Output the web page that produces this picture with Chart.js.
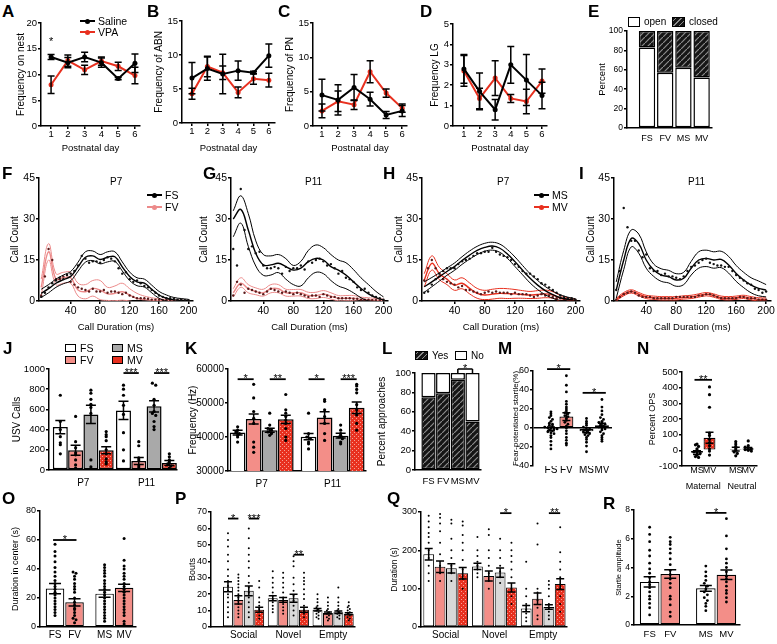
<!DOCTYPE html>
<html>
<head>
<meta charset="utf-8">
<script src="https://cdn.jsdelivr.net/npm/chart.js@4.4.1/dist/chart.umd.min.js"></script>
<style>
  html, body { margin: 0; padding: 0; background: #fff; }
  body { position: relative; width: 777px; height: 644px; overflow: hidden; font-family: "Liberation Sans", Arial, sans-serif; color: #000; }
  canvas { position: absolute; }
  .t { position: absolute; white-space: nowrap; line-height: 12px; font-size: 10px; }
  .pl { position: absolute; font-weight: bold; font-size: 17px; line-height: 17px; }
  .key { position: absolute; }
</style>
</head>
<body>
<script>
// ---------- A-D: maternal behaviour per postnatal day ----------
const days = [1, 2, 3, 4, 5, 6];
const nestSaline = [13.4, 12.3, 13.4, 12.3, 9.2, 12.2];
const nestSalineErr = [0.5, 1.0, 0.9, 0.9, 0.2, 1.8];
const nestVpa = [8.0, 12.7, 10.9, 12.6, 11.6, 9.8];
const nestVpaErr = [1.7, 1.1, 0.9, 0.8, 0.8, 1.6];
const abnSaline = [6.6, 8.0, 7.2, 7.7, 7.4, 9.9];
const abnSalineErr = [2.3, 1.7, 2.9, 1.4, 0.2, 1.7];
const abnVpa = [4.3, 8.3, 7.4, 4.5, 6.5, 6.3];
const abnVpaErr = [0.8, 1.5, 1.0, 0.8, 0.8, 1.0];
const pnSaline = [4.5, 3.8, 5.6, 3.9, 1.6, 2.2];
const pnSalineErr = [2.3, 2.2, 1.9, 1.0, 0.5, 0.8];
const pnVpa = [2.2, 3.6, 3.1, 7.9, 4.8, 2.6];
const pnVpaErr = [1.0, 1.5, 0.7, 1.6, 0.6, 0.6];
const lgSaline = [2.8, 1.7, 0.8, 3.0, 2.25, 1.5];
const lgSalineErr = [0.7, 0.9, 0.5, 0.9, 1.25, 0.65];
const lgVpa = [2.7, 1.35, 2.35, 1.35, 1.2, 2.2];
const lgVpaErr = [0.75, 0.5, 0.85, 0.2, 0.6, 0.6];
const nestSig = [{a: 1, b: 1, v: 16.3, t: '*'}];

// ---------- E ----------
const groups4 = ['FS', 'FV', 'MS', 'MV'];
const armsOpen = [83, 57, 62, 52];
const armsClosed = [17, 43, 38, 48];

// ---------- F-I: call duration histograms ----------
const durBins = [0, 5, 10, 15, 20, 25, 30, 35, 40, 45, 50, 55, 60, 65, 70, 75, 80, 85, 90, 95, 100,
  105, 110, 115, 120, 125, 130, 135, 140, 145, 150, 155, 160, 165, 170, 175, 180, 185, 190, 195, 200];
const fitBins = [0, 10, 20, 30, 40, 50, 60, 70, 80, 90, 100, 110, 120, 130, 140, 150, 160, 170, 180, 190, 200];

const fsP7Dots = [1.5, 3, 5, 6.5, 7.5, 8.5, 8, 9.5, 10, 11, 13, 16.5, 15.5, 14, 14.5, 14.5, 14, 15, 16, 15.5, 14.5,
  12, 10, 10.5, 8, 7, 7.5, 6.5, 5.5, 5, 4, 3, 2, 1.5, 1, 1, 0.8, 0.5, 0.5, 0.3, 0.3];
const fvP7Dots = [2, 9, 19, 15, 8, 8, 9, 9.5, 7, 6, 5, 4.5, 4, 3.5, 4.5, 3.5, 3.5, 4, 3, 3.5, 3.5,
  3, 2.5, 3, 2, 1.5, 1, 1, 1, 0.8, 0.5, 0.5, 0.5, 0.3, 0.3, 0.3, 0.3, 0.2, 0.2, 0.1, 0.1];
const fsP7Fit = [2.8, 4.5, 6.5, 7.8, 9, 12.5, 16, 16.5, 15.2, 16, 16.2, 12.5, 9, 7, 6.5, 4.3, 2.2, 1, 0.4, 0.2, 0.1];
const fsP7Hi = [4.3, 6, 8, 9.5, 10.8, 14.2, 18, 18.3, 17, 18, 18, 14.3, 10.6, 8.5, 8, 5.8, 3.5, 2.2, 1.3, 0.9, 0.6];
const fsP7Lo = [1.3, 3, 5, 6.3, 7.4, 10.9, 14.2, 14.8, 13.6, 14.3, 14.5, 11, 7.5, 5.6, 5.1, 3, 1, 0, -0.5, -0.5, -0.4];
const fvP7Fit = [5, 18, 8, 8.5, 8.5, 4, 3.4, 4.6, 4, 2.6, 2.8, 3.4, 2.2, 1, 0.5, 0.3, 0.2, 0.2, 0.1, 0.1, 0.1];
const fvP7Hi = [8, 21, 10, 10.5, 10.5, 6.5, 6, 7.5, 7.5, 5, 5.5, 6.5, 4.5, 2.8, 1.8, 1.2, 0.8, 0.6, 0.4, 0.3, 0.2];
const fvP7Lo = [2, 15, 6, 6.5, 6.5, 1.8, 0.8, 1.8, 0.5, 0.2, 0.1, 0.3, 0, -0.5, -0.6, -0.5, -0.4, -0.2, -0.1, 0, 0];

const fsP11Dots = [19, 13, 41, 26, 19, 20, 17.5, 18, 13, 12, 12, 12.5, 12, 10, 12.5, 11, 12, 12, 13, 11.5, 14.5,
  14, 15, 15.5, 14.5, 13, 13.5, 12, 10, 11, 8.5, 8, 7, 5, 4, 4.5, 3, 2, 1.5, 1, 0.5];
const fvP11Dots = [2, 7, 6, 3, 4.5, 4, 3.5, 3, 2.5, 3.5, 4.5, 4, 3.5, 3, 3.5, 3, 2.5, 3, 2.5, 2, 1.5,
  2, 2, 1.5, 2.5, 2, 1.5, 1.5, 1, 1, 1, 1, 0.8, 0.8, 0.5, 0.5, 0.5, 0.3, 0.3, 0.2, 0.2];
const fsP11Fit = [30, 33.5, 26, 17.4, 13.2, 13.2, 13.8, 12.6, 11.3, 12, 14.4, 15.6, 15, 12.6, 11.3, 9.5, 7, 4.6, 2.6, 1.2, 0.4];
const fsP11Hi = [33, 38.5, 32, 22, 17, 16.5, 17, 15.5, 13, 14.5, 18.5, 20.5, 19.5, 17, 15, 14, 11.5, 8.5, 6, 3.5, 1.5];
const fsP11Lo = [23.5, 28.5, 20, 12.8, 9.4, 9.5, 10.4, 8, 6, 5.5, 8.5, 10.5, 10, 7.5, 5.5, 4.5, 3, 1.2, 0, -0.5, -0.5];
const fvP11Fit = [3, 6.5, 4.5, 3.5, 3, 4.5, 4.5, 3, 3, 3, 2, 2, 2.5, 1.8, 1, 1, 1, 0.6, 0.5, 0.3, 0.2];
const fvP11Hi = [4.5, 8.5, 6, 4.8, 4.3, 6, 6, 4.3, 4.2, 4.2, 3.2, 3.2, 3.8, 3, 2, 2, 2, 1.4, 1.2, 0.9, 0.7];
const fvP11Lo = [1.5, 5, 3, 2.3, 1.8, 3, 3, 1.8, 1.8, 1.8, 0.9, 0.9, 1.3, 0.7, 0.1, 0.1, 0.1, -0.2, -0.2, -0.2, -0.2];

const msP7Dots = [3, 3.5, 6, 8, 10, 11, 12, 12, 12, 13.5, 14.5, 15, 15.5, 16.5, 17.5, 17.5, 18, 18, 19.5, 18, 17,
  16.5, 16, 15, 13.5, 12.5, 11, 10, 10, 9, 8, 6.5, 6, 5, 4, 3, 2, 1.5, 1, 1, 0.5];
const mvP7Dots = [7.5, 12, 15, 12, 9, 8, 7, 6.5, 6, 5, 5.5, 4, 4, 3.5, 3, 2.5, 3, 3.5, 3, 3.5, 3,
  3, 3, 2.5, 3, 2.5, 2.5, 2.5, 2, 1.5, 2, 2.5, 2, 2, 1.5, 1, 1, 0.8, 0.5, 0.5, 0.3];
const msP7Fit = [5.2, 7, 8.9, 10.8, 12.6, 14.8, 16.8, 18.5, 19.6, 20.1, 19.3, 17.2, 14.4, 11.3, 8.3, 5.8, 3.8, 2.3, 1.2, 0.6, 0.3];
const msP7Hi = [7, 8.6, 10.3, 12.1, 13.9, 16.2, 18.3, 20, 21.1, 21.5, 20.8, 18.8, 16.1, 13, 10, 7.5, 5.3, 3.6, 2.3, 1.4, 0.8];
const msP7Lo = [3.2, 5.2, 7.3, 9.4, 11.2, 13.4, 15.3, 17, 18.2, 18.6, 17.8, 15.6, 12.6, 9.6, 6.6, 4.2, 2.3, 1, 0.2, -0.2, -0.3];
const mvP7Fit = [7.7, 13.8, 10, 8, 5.8, 6.5, 4.6, 2.8, 2.2, 2.5, 2.8, 2.7, 2.6, 2.4, 2.2, 2.4, 2.6, 2.2, 1, 0.5, 0.2];
const mvP7Hi = [10, 16.5, 12.3, 10, 7.7, 8.5, 6.6, 4.6, 3.9, 4.3, 4.6, 4.5, 4.2, 3.8, 3.5, 3.8, 4, 3.4, 2, 1.2, 0.7];
const mvP7Lo = [5.2, 11.3, 7.8, 6, 3.9, 4.5, 2.6, 1, 0.5, 0.7, 1, 0.9, 1, 1, 0.9, 1, 1.2, 1, 0, -0.2, -0.3];

const msP11Dots = [4, 11, 34, 27, 22, 22, 18.5, 16, 17, 12, 11, 11, 9.5, 10, 9, 9, 8.5, 8, 9, 11, 12.5,
  13, 14, 15, 15.5, 14, 13.5, 13, 13, 12.5, 12.5, 11, 9.5, 8.5, 7.5, 6.5, 6, 4.5, 4, 3, 3.5];
const mvP11Dots = [0.5, 1.5, 2.5, 3, 3.5, 3, 2, 1.5, 1.5, 1.5, 1, 1, 1, 1, 1, 1, 1.5, 1.5, 1.5, 1.5, 1.5,
  1.5, 2, 2, 2.5, 2.5, 2, 1.5, 1, 1, 1, 1, 1, 1.5, 1.5, 1, 1, 1, 0.5, 0.5, 0.5];
const msP11Fit = [4, 15, 22.9, 21, 15, 11.3, 9.5, 8.9, 7.7, 8.3, 12, 15, 15.6, 15, 15.2, 13.2, 10.1, 7.7, 5.8, 4.6, 4];
const msP11Hi = [7, 18.5, 26, 24.5, 18, 13.5, 11.8, 11.2, 10, 10.5, 14.5, 18, 18.6, 18, 18.2, 16.3, 13, 10.5, 8.5, 7.3, 6];
const msP11Lo = [1, 11.5, 19.8, 17.5, 12, 9, 7.2, 6.6, 5.4, 6, 9.5, 12, 12.6, 12, 12.2, 10.2, 7.2, 4.9, 3, 1.9, 1.5];
const mvP11Fit = [0.5, 2.5, 3.5, 2.5, 1.5, 1.2, 1, 1, 1, 1.3, 1.5, 2, 2.5, 2, 1.2, 1, 1.2, 1.5, 1, 0.6, 0.5];
const mvP11Hi = [1, 3.1, 4.1, 3.1, 2.1, 1.8, 1.6, 1.6, 1.6, 1.9, 2.1, 2.6, 3.1, 2.6, 1.8, 1.6, 1.8, 2.1, 1.6, 1.2, 1.1];
const mvP11Lo = [0, 1.9, 2.9, 1.9, 0.9, 0.6, 0.4, 0.4, 0.4, 0.7, 0.9, 1.4, 1.9, 1.4, 0.6, 0.4, 0.6, 0.9, 0.4, 0, -0.1];

// ---------- J, K: USV calls and frequency ----------
const ageGroups = ['P7', 'P11'];
const usvCalls = [[425, 195, 550, 195], [590, 90, 630, 70]];
const usvCallsErr = [[65, 50, 90, 35], [90, 35, 55, 25]];
const usvCallsDots = [
  [[740, 480, 400, 330, 270, 250, 160], [530, 280, 220, 170, 150, 100, 50, 20],
   [790, 760, 700, 650, 620, 560, 100, 30], [380, 350, 330, 290, 200, 160, 110, 80, 60]],
  [[840, 800, 740, 640, 550, 370, 200, 90], [280, 240, 120, 100, 40, 20, 10],
   [860, 840, 700, 640, 580, 560, 540, 480, 430, 400], [160, 130, 100, 80, 60, 40, 20, 10]]
];
const usvCallsSig = [{g: 1, a: 0, b: 1, v: 960, t: '***'}, {g: 1, a: 2, b: 3, v: 960, t: '***'}];

const usvFreq = [[41300, 45300, 42000, 45200], [40100, 45700, 40400, 48600]];
const usvFreqErr = [[700, 1500, 600, 1200], [900, 1700, 700, 1700]];
const usvFreqDots = [
  [[43000, 42000, 41500, 41000, 40500, 40000, 38500], [55500, 51500, 47500, 45500, 44000, 38500, 37000, 35500],
   [47000, 43500, 42500, 42000, 41500, 41000, 40500], [52500, 48000, 47000, 46000, 45000, 44000, 42500, 40000, 39000]],
  [[47000, 41000, 40000, 39500, 38500, 38000, 36500], [51000, 50500, 48000, 46000, 44000, 41000, 39000],
   [43500, 42000, 41000, 40500, 40000, 39500, 38500, 38000], [55500, 55000, 54000, 53000, 49500, 48000, 46500, 44000, 42000]]
];
const usvFreqSig = [{g: 0, a: 0, b: 1, v: 57000, t: '*'}, {g: 0, a: 2, b: 3, v: 57000, t: '**'},
  {g: 1, a: 0, b: 1, v: 57000, t: '*'}, {g: 1, a: 2, b: 3, v: 57000, t: '***'}];

// ---------- L ----------
const approachYes = [75, 79, 93, 50];
const approachNo = [25, 21, 7, 50];
const approachSig = [{a: 2, b: 3, v: 104, t: '*', tick: 4}];

// ---------- M ----------
const fpsMean = [[-1, 12], [-3.5, 3]];
const fpsErr = [[2, 4], [1.5, 2]];
const fpsDots = [
  [[17, 15, 13, 11, 9, 7, 5, 4, 3, 2, 1, 0, 0, -1, -1, -2, -3, -4, -5, -6, -8, -10, -14, -18, -22],
   [55, 45, 38, 28, 25, 22, 20, 18, 16, 15, 13, 12, 10, 8, 6, 4, 2, 0, -3, -6, -10, -13, -16, -18]],
  [[10, 7, 5, 3, 1, 0, -1, -2, -3, -4, -5, -6, -7, -8, -10, -12, -15, -19, -25],
   [30, 22, 18, 14, 11, 9, 7, 6, 5, 4, 3, 2, 1, 0, -1, -2, -4, -6, -8, -10, -12, -14]]
];
const fpsSig = [{g: 0, a: 0, b: 1, v: 62, t: '*'}, {g: 1, a: 0, b: 1, v: 37, t: '*'}];

// ---------- N ----------
const opsGroups = ['Maternal', 'Neutral'];
const opsBars = ['MS', 'MV', 'MS', 'MV'];
const opsMean = [[-15, 80], [8, 12]];
const opsErr = [[12, 35], [12, 6]];
const opsDots = [
  [[40, 35, 25, 10, 0, -10, -15, -20, -30, -40, -45], [405, 355, 275, 110, 95, 70, 50, 30, 10, -5, -30]],
  [[55, 40, 25, 10, 0, -10, -20, -35], [60, 30, 20, 15, 10, 5, 0, -5]]
];
const opsSig = [{g: 0, a: 0, b: 1, v: 450, t: '**'}];

// ---------- O ----------
const centerMean = [[26.5, 17], [23, 27]];
const centerErr = [[3.5, 2.5], [2.5, 2.5]];
const centerDots = [
  [[57, 52, 49, 45, 41, 38, 35, 32, 30, 28, 26, 24, 22, 20, 18, 16, 14, 12, 10, 8],
   [38, 37, 35, 33, 30, 28, 26, 24, 20, 17, 15, 13, 12, 10, 8, 6, 5, 3]],
  [[43, 41, 39, 37, 35, 32, 30, 28, 26, 24, 22, 20, 18, 16, 14, 12, 10, 8, 6, 4],
   [61, 46, 42, 40, 37, 35, 33, 30, 28, 26, 24, 22, 20, 18, 16, 14, 12, 10, 8, 4, 2]]
];
const centerSig = [{g: 0, a: 0, b: 1, v: 60, t: '*'}];

// ---------- P, Q: three-chamber test ----------
const chambers = ['Social', 'Novel', 'Empty'];
const boutsMean = [[24.5, 16.5, 22, 10.5], [17.5, 16.5, 17.5, 10.5], [10.5, 8.5, 9, 8]];
const boutsErr = [[3, 2.5, 3, 1.5], [1.5, 1.5, 2.5, 1.5], [0.8, 0.6, 0.8, 0.6]];
const boutsDots = [
  [[57, 53, 49, 44, 40, 35, 31, 28, 25, 22, 20, 18, 15, 12, 9, 6], [32, 30, 28, 26, 24, 22, 20, 18, 16, 14, 12, 10, 8, 6],
   [60, 54, 48, 44, 40, 36, 31, 27, 24, 21, 18, 15, 12, 9, 6], [28, 24, 18, 15, 13, 11, 9, 7, 5]],
  [[34, 30, 27, 24, 21, 19, 17, 15, 13, 11, 9], [33, 30, 27, 24, 21, 18, 16, 14, 12, 10, 8],
   [43, 40, 37, 30, 26, 22, 19, 16, 13, 10, 7], [33, 30, 28, 26, 23, 20, 17, 13, 10, 8, 6]],
  [[20, 17, 15, 13, 12, 11, 10, 9, 8, 7, 6, 5], [18, 15, 13, 11, 10, 9, 8, 7, 6, 5, 4],
   [24, 18, 15, 13, 11, 10, 9, 8, 7, 6, 5], [15, 13, 12, 11, 10, 9, 8, 7, 6, 5, 4]]
];
const boutsSig = [{g: 0, a: 0, b: 1, v: 66, t: '*'}, {g: 0, a: 2, b: 3, v: 66, t: '***'}, {g: 1, a: 2, b: 3, v: 44, t: '**'}];

const durMean = [[190, 157, 153, 140], [158, 133, 142, 103], [48, 74, 52, 112]];
const durErr = [[15, 15, 12, 15], [8, 13, 12, 12], [8, 15, 6, 14]];
const durDots = [
  [[290, 275, 260, 245, 235, 220, 200, 180, 160, 140, 120], [295, 285, 270, 250, 220, 190, 160, 140, 120],
   [280, 270, 230, 200, 180, 160, 140, 120], [275, 265, 240, 220, 200, 175, 150, 125, 100]],
  [[235, 200, 185, 170, 160, 150, 140, 130], [255, 240, 200, 180, 160, 140, 120, 100],
   [230, 200, 180, 160, 145, 130, 115], [220, 200, 185, 170, 150, 130, 100, 80, 60]],
  [[170, 100, 80, 60, 45, 35, 25, 15], [270, 215, 100, 90, 70, 50, 30, 20],
   [120, 110, 100, 80, 60, 50, 40, 30, 20], [260, 195, 170, 150, 130, 110, 100, 80, 60, 40]]
];
const durSig = [{g: 1, a: 2, b: 3, v: 297, t: '*'}, {g: 2, a: 2, b: 3, v: 297, t: '**'}];

// ---------- R ----------
const startleMean = [[3.0, 3.55], [2.55, 3.5]];
const startleErr = [[0.35, 0.3], [0.2, 0.33]];
const startleDots = [
  [[6.8, 6.3, 5.8, 5.2, 4.8, 4.3, 3.9, 3.6, 3.3, 3.0, 2.8, 2.6, 2.3, 2.0, 1.8, 1.5, 1.2, 0.7],
   [6.1, 5.8, 5.6, 5.3, 5.0, 4.6, 4.2, 3.8, 3.5, 3.2, 2.9, 2.6, 2.0, 1.8, 1.4, 0.9, 0.6]],
  [[4.1, 3.7, 3.4, 3.1, 2.9, 2.7, 2.5, 2.3, 2.1, 1.9, 1.7, 1.5, 1.3, 1.0],
   [7.4, 6.2, 5.3, 4.6, 4.3, 4.0, 3.7, 3.4, 3.2, 3.0, 2.7, 2.4, 2.2, 1.9, 1.6]]
];
const startleSig = [{g: 1, a: 0, b: 1, v: 7.8, t: '*'}];

// ---------- styling ----------
const RED = '#e8301f';
const PINK = '#f38e88';
const GRAY = '#a9a9a9';
const LGRAY = '#d8d8d8';
const FAMILY = "'Liberation Sans', Arial, Helvetica, sans-serif";

Chart.defaults.font.family = FAMILY;
Chart.defaults.color = '#000';
Chart.defaults.animation = false;
Chart.defaults.responsive = false;
Chart.defaults.events = [];
Chart.defaults.plugins.legend.display = false;
Chart.defaults.plugins.tooltip.enabled = false;

function makePattern(size, draw) {
  const c = document.createElement('canvas');
  c.width = c.height = size;
  const x = c.getContext('2d');
  draw(x);
  return x.createPattern(c, 'repeat');
}
const HATCH = makePattern(6, x => {
  x.fillStyle = '#151515'; x.fillRect(0, 0, 6, 6);
  x.strokeStyle = '#8c8c8c'; x.lineWidth = 1.2;
  x.beginPath(); x.moveTo(0, 6); x.lineTo(6, 0); x.stroke();
});
const RED_DOTS = makePattern(4, x => {
  x.fillStyle = RED; x.fillRect(0, 0, 4, 4);
  x.fillStyle = '#f6a095'; x.fillRect(1, 1, 1, 1); x.fillRect(3, 3, 1, 1);
});

// error bars and significance markers
const extras = {
  id: 'extras',
  afterDatasetsDraw(chart, args, opts) {
    const {ctx} = chart;
    const xs = chart.scales.x, ys = chart.scales.y;
    ctx.save();
    ctx.strokeStyle = '#000';
    chart.data.datasets.forEach((ds, di) => {
      if (!ds.errs) return;
      const meta = chart.getDatasetMeta(di);
      meta.data.forEach((el, j) => {
        const e = ds.errs[j];
        if (!e) return;
        const v = ds.data[j].y;
        const top = ys.getPixelForValue(v + e), bot = ys.getPixelForValue(v - e);
        const w = ds.capW || 3;
        ctx.lineWidth = ds.errLW || 1.5;
        ctx.beginPath();
        ctx.moveTo(el.x, top); ctx.lineTo(el.x, bot);
        ctx.moveTo(el.x - w, top); ctx.lineTo(el.x + w, top);
        ctx.moveTo(el.x - w, bot); ctx.lineTo(el.x + w, bot);
        ctx.stroke();
      });
    });
    (opts.sig || []).forEach(s => {
      const x1 = xs.getPixelForValue(s.a), x2 = xs.getPixelForValue(s.b), y = ys.getPixelForValue(s.v);
      ctx.lineWidth = opts.lw || 1.8;
      ctx.beginPath();
      if (s.a !== s.b) { ctx.moveTo(x1, y); ctx.lineTo(x2, y); }
      if (s.tick) {
        ctx.moveTo(x1, y); ctx.lineTo(x1, y + s.tick);
        ctx.moveTo(x2, y); ctx.lineTo(x2, y + s.tick);
      }
      ctx.stroke();
      ctx.fillStyle = '#000';
      ctx.font = (opts.size || 11) + 'px ' + FAMILY;
      ctx.textAlign = 'center';
      ctx.textBaseline = 'alphabetic';
      ctx.fillText(s.t, (x1 + x2) / 2, y + 3);
    });
    ctx.restore();
  }
};

function mount(b) {
  const pt = b.pt ?? 12, pr = b.pr ?? 6;
  const left = b.ax - b.yw;
  const w = b.right - left + pr;
  const h = b.bottom - b.top + pt + b.xh;
  const cv = document.createElement('canvas');
  cv.width = w; cv.height = h;
  cv.style.left = left + 'px';
  cv.style.top = (b.top - pt) + 'px';
  cv.style.width = w + 'px';
  cv.style.height = h + 'px';
  document.body.appendChild(cv);
  return {cv, padding: {top: pt, right: pr, left: 0, bottom: 0}};
}

function yAxis(b, min, max, step, title, fs, tfs, zeroLine) {
  return {
    type: 'linear', position: 'left', min, max,
    afterFit: s => { s.width = b.yw; },
    ticks: {stepSize: step, padding: 1, font: {size: fs}, color: '#000', callback: v => String(v)},
    grid: {
      drawOnChartArea: !!zeroLine, drawTicks: true, tickLength: 3, lineWidth: 1.5, tickColor: '#000',
      color: c => (zeroLine && c.tick && c.tick.value === 0) ? '#000' : 'rgba(0,0,0,0)'
    },
    border: {color: '#000', width: 1.5},
    title: {display: !!title, text: title, padding: 0, font: {size: tfs}, color: '#000'}
  };
}

function xAxis(b, min, max, ticks, labels, fs, o = {}) {
  return {
    type: 'linear', position: 'bottom', min, max, offset: false,
    weight: o.weight || 0,
    afterFit: s => { s.height = o.h ?? b.xh; },
    afterBuildTicks: s => { s.ticks = ticks.map(v => ({value: v})); },
    ticks: {autoSkip: false, maxRotation: 0, padding: o.pad ?? 2, font: {size: fs}, color: '#000',
      callback: (v, i) => labels[i]},
    grid: {display: !!o.marks, offset: false, drawOnChartArea: false, drawTicks: !!o.marks, tickLength: 3,
      color: '#000', lineWidth: 1.5},
    border: {display: o.border !== false, color: '#000', width: 1.5},
    title: {display: !!o.title, text: o.title, padding: 0, font: {size: o.tfs || 10}, color: '#000'}
  };
}

function linePanel(b, yMax, yStep, yTitle, s1, e1, s2, e2, sig) {
  const m = mount(b);
  const mk = (vals, errs, col) => ({
    data: days.map((d, i) => ({x: d, y: vals[i]})), errs, capW: 3.5,
    borderColor: col, backgroundColor: col, borderWidth: 2, pointRadius: 2.5, pointBorderWidth: 0, tension: 0
  });
  new Chart(m.cv, {
    type: 'line',
    data: {datasets: [mk(s1, e1, '#000'), mk(s2, e2, RED)]},
    options: {
      layout: {padding: m.padding},
      scales: {
        x: xAxis(b, b.xmin, b.xmax, days, days.map(String), 9.5, {marks: true, pad: 0, title: 'Postnatal day', tfs: 9.5}),
        y: yAxis(b, 0, yMax, yStep, yTitle, 9.5, 10)
      },
      plugins: {extras: {sig: sig || []}}
    },
    plugins: [extras]
  });
}

function usvPanel(b, d1, f1, h1, l1, c1, d2, f2, h2, l2, c2) {
  const m = mount(b);
  const dots = (vals, col) => ({data: durBins.map((x, i) => ({x, y: vals[i]})), pointRadius: 1.2,
    backgroundColor: col, borderWidth: 0});
  const fit = (vals, col, w) => ({data: fitBins.map((x, i) => ({x, y: vals[i]})), showLine: true,
    pointRadius: 0, borderColor: col, borderWidth: w, tension: 0.4});
  new Chart(m.cv, {
    type: 'scatter',
    data: {datasets: [
      dots(d1, '#111'), fit(f1, c1, 1.4), fit(h1, c1, 1), fit(l1, c1, 1),
      dots(d2, '#5a1a1a'), fit(f2, c2, 1.4), fit(h2, c2, 1), fit(l2, c2, 1)
    ]},
    options: {
      layout: {padding: m.padding},
      scales: {
        x: xAxis(b, -3, 206, [40, 80, 120, 160, 200], ['40', '80', '120', '160', '200'], 10.5,
          {marks: true, pad: 1, title: 'Call Duration (ms)', tfs: 9.5}),
        y: yAxis(b, 0, 45, 15, 'Call Count', 10.5, 10)
      }
    }
  });
}

function swarm(vals, center, bin, dx) {
  const bins = new Map();
  vals.forEach(v => {
    const k = Math.round(v / bin);
    if (!bins.has(k)) bins.set(k, []);
    bins.get(k).push(v);
  });
  const out = [];
  bins.forEach(list => list.forEach((v, k) => out.push({x: center + (k - (list.length - 1) / 2) * dx, y: v})));
  return out;
}

function barPanel(p) {
  const b = p.box;
  const m = mount(b);
  const per = p.values[0].length;
  const pos = (g, i) => g * (per + (p.gap || 0)) + i;
  const bars = [], cols = [], errs = [], pts = [];
  p.values.forEach((grp, g) => grp.forEach((v, i) => {
    const x = pos(g, i);
    bars.push({x, y: v});
    cols.push(p.colors[i]);
    errs.push(p.errs[g][i]);
    swarm(p.dots[g][i], x, p.bin, p.dx).forEach(d => pts.push(d));
  }));
  let ticks, labels;
  if (p.groupTicks) {
    ticks = p.values.map((_, g) => pos(g, (per - 1) / 2));
    labels = p.groupNames;
  } else {
    ticks = bars.map(d => d.x);
    labels = p.barNames;
  }
  const ext = p.ext || 0;
  const sig = (p.sig || []).map(s => ({a: pos(s.g, s.a) - ext, b: pos(s.g, s.b) + ext, v: s.v, t: s.t}));
  const scales = {
    x: xAxis(b, p.xmin, p.xmax, ticks, labels, p.xfs || 10, {pad: p.xpad ?? 2, border: p.xborder !== false, h: p.x2 ? 12 : b.xh}),
    y: yAxis(b, p.ymin || 0, p.ymax, p.ystep, p.ytitle, p.yfs || 9.5, p.tfs || 9.5, p.zeroLine)
  };
  if (p.x2) {
    scales.x2 = xAxis(b, p.xmin, p.xmax, p.values.map((_, g) => pos(g, (per - 1) / 2)), p.x2, p.xfs || 10,
      {pad: p.x2pad ?? 2, border: false, h: b.xh - 12, weight: 1});
  }
  new Chart(m.cv, {
    type: 'bar',
    data: {datasets: [
      {type: 'scatter', data: pts, pointRadius: p.dotR, backgroundColor: '#000', borderWidth: 0, order: 1},
      {type: 'bar', data: bars, backgroundColor: cols, borderColor: '#000', borderWidth: p.bw || 1.2,
        borderSkipped: false, barPercentage: p.barPct, categoryPercentage: 1, errs, capW: p.capW, order: 2}
    ]},
    options: {
      layout: {padding: m.padding},
      scales,
      plugins: {extras: {sig, size: p.sigSize || 11, lw: p.sigLW || 1.8}}
    },
    plugins: [extras]
  });
}

function stackPanel(p) {
  const b = p.box;
  const m = mount(b);
  const idx = groups4.map((_, i) => i);
  const ds = (vals, fill) => ({data: vals.map((v, i) => ({x: i, y: v})), backgroundColor: fill,
    borderColor: '#000', borderWidth: 1.5, borderSkipped: false, barPercentage: p.barPct, categoryPercentage: 1});
  const yax = yAxis(b, 0, 100, 20, p.ytitle, p.yfs, p.tfs);
  yax.stacked = true;
  const xax = xAxis(b, p.xmin, p.xmax, idx, groups4, p.xfs, {pad: p.xpad});
  xax.stacked = true;
  new Chart(m.cv, {
    type: 'bar',
    data: {datasets: [ds(p.bottom, p.bottomFill), ds(p.top, p.topFill)]},
    options: {
      layout: {padding: m.padding},
      scales: {x: xax, y: yax},
      plugins: {extras: {sig: p.sig || [], size: 11, lw: 1.5}}
    },
    plugins: [extras]
  });
}

// ---------- build panels ----------
linePanel({ax: 41, top: 23, bottom: 126, right: 140, yw: 26, xh: 28, xmin: 0.4, xmax: 6.3},
  20, 5, 'Frequency on nest', nestSaline, nestSalineErr, nestVpa, nestVpaErr, nestSig);
linePanel({ax: 182, top: 21, bottom: 123, right: 275, yw: 29, xh: 31, xmin: 0.35, xmax: 6.4},
  15, 5, 'Frequency of ABN', abnSaline, abnSalineErr, abnVpa, abnVpaErr);
linePanel({ax: 313, top: 23, bottom: 126, right: 407, yw: 29, xh: 28, xmin: 0.44, xmax: 6.3},
  15, 5, 'Frequency of PN', pnSaline, pnSalineErr, pnVpa, pnVpaErr);
linePanel({ax: 453, top: 24, bottom: 126, right: 547, yw: 24, xh: 28, xmin: 0.3, xmax: 6.32},
  5, 1, 'Frequency LG', lgSaline, lgSalineErr, lgVpa, lgVpaErr);

stackPanel({box: {ax: 627, top: 31, bottom: 128, right: 712, yw: 30, xh: 18},
  xmin: -1.1, xmax: 3.57, barPct: 0.9, bottom: armsOpen, top: armsClosed, bottomFill: '#fff', topFill: HATCH,
  ytitle: 'Percent', yfs: 8.5, tfs: 9.5, xfs: 9, xpad: 5});

usvPanel({ax: 39, top: 178, bottom: 301, right: 193, yw: 30, xh: 32},
  fsP7Dots, fsP7Fit, fsP7Hi, fsP7Lo, '#000', fvP7Dots, fvP7Fit, fvP7Hi, fvP7Lo, '#ec8a8a');
usvPanel({ax: 231, top: 178, bottom: 301, right: 388, yw: 33, xh: 32},
  fsP11Dots, fsP11Fit, fsP11Hi, fsP11Lo, '#000', fvP11Dots, fvP11Fit, fvP11Hi, fvP11Lo, '#ec8a8a');
usvPanel({ax: 422, top: 178, bottom: 301, right: 580, yw: 29, xh: 32},
  msP7Dots, msP7Fit, msP7Hi, msP7Lo, '#000', mvP7Dots, mvP7Fit, mvP7Hi, mvP7Lo, RED);
usvPanel({ax: 614, top: 178, bottom: 301, right: 772, yw: 29, xh: 32, pr: 4},
  msP11Dots, msP11Fit, msP11Hi, msP11Lo, '#000', mvP11Dots, mvP11Fit, mvP11Hi, mvP11Lo, RED);

barPanel({box: {ax: 49, top: 369, bottom: 470, right: 177, yw: 38, xh: 20},
  values: usvCalls, errs: usvCallsErr, dots: usvCallsDots, colors: ['#fff', PINK, GRAY, RED_DOTS],
  gap: 0.13, barPct: 0.98, xmin: -0.74, xmax: 7.63, ymax: 1000, ystep: 200, ytitle: 'USV Calls',
  groupTicks: true, groupNames: ageGroups, xpad: 7, sig: usvCallsSig, dotR: 1.6, bin: 25, dx: 0.22, capW: 5,
  bw: 1.5, yfs: 9.5, tfs: 10});
barPanel({box: {ax: 228, top: 369, bottom: 471, right: 366, yw: 41, xh: 20},
  values: usvFreq, errs: usvFreqErr, dots: usvFreqDots, colors: ['#fff', PINK, GRAY, RED_DOTS],
  gap: 0.42, barPct: 0.98, xmin: -0.6, xmax: 8.0, ymin: 30000, ymax: 60000, ystep: 10000, ytitle: 'Frequency (Hz)',
  groupTicks: true, groupNames: ageGroups, xpad: 7, sig: usvFreqSig, dotR: 1.6, bin: 900, dx: 0.22, capW: 5,
  bw: 1.5, yfs: 10, tfs: 10});

stackPanel({box: {ax: 415, top: 373, bottom: 470, right: 481, yw: 39, xh: 20},
  xmin: -0.92, xmax: 3.58, barPct: 0.97, bottom: approachYes, top: approachNo, bottomFill: HATCH, topFill: '#fff',
  ytitle: 'Percent approaches', yfs: 9.5, tfs: 10, xfs: 9.5, xpad: 6, sig: approachSig});

barPanel({box: {ax: 533, top: 371, bottom: 466, right: 612, yw: 22, xh: 14},
  values: fpsMean, errs: fpsErr, dots: fpsDots, colors: ['#fff', PINK], gap: 0.3, barPct: 0.9,
  xmin: -1.16, xmax: 3.95, ymin: -40, ymax: 60, ystep: 20, ytitle: 'Fear-potentiated startle(%)',
  barNames: groups4, xpad: -2, xborder: false, zeroLine: true, sig: fpsSig, ext: 0.25,
  dotR: 1.4, bin: 2.5, dx: 0.2, capW: 4, yfs: 9, tfs: 8, xfs: 10});

barPanel({box: {ax: 682, top: 372, bottom: 466, right: 757, yw: 35, xh: 28},
  values: opsMean, errs: opsErr, dots: opsDots, colors: [LGRAY, RED_DOTS], gap: 1.1, barPct: 0.95,
  xmin: -1.2, xmax: 4.8, ymin: -100, ymax: 500, ystep: 100, ytitle: 'Percent OPS',
  barNames: opsBars, x2: opsGroups, xpad: -1, x2pad: 3, sig: opsSig, ext: 0.2,
  dotR: 1.6, bin: 15, dx: 0.25, capW: 4, yfs: 9.5, tfs: 9, xfs: 9});

barPanel({box: {ax: 40, top: 511, bottom: 627, right: 136, yw: 30, xh: 16},
  values: centerMean, errs: centerErr, dots: centerDots, colors: ['#fff', PINK], gap: 0.54, barPct: 0.95,
  xmin: -0.77, xmax: 4.15, ymax: 80, ystep: 20, ytitle: 'Duration in center (s)',
  barNames: groups4, xpad: 2, sig: centerSig, ext: 0.1,
  dotR: 1.5, bin: 2, dx: 0.15, capW: 6, yfs: 9, tfs: 9, xfs: 10});

barPanel({box: {ax: 211, top: 512, bottom: 627, right: 355, yw: 24, xh: 16},
  values: boutsMean, errs: boutsErr, dots: boutsDots, colors: ['#fff', PINK, LGRAY, RED_DOTS], gap: 0.3, barPct: 0.95,
  xmin: -1.63, xmax: 12.2, ymax: 70, ystep: 10, ytitle: 'Bouts',
  groupTicks: true, groupNames: chambers, xpad: 2, sig: boutsSig,
  dotR: 1.0, bin: 2, dx: 0.2, capW: 4, bw: 1, yfs: 9, tfs: 9, xfs: 10});

barPanel({box: {ax: 421, top: 512, bottom: 627, right: 567, yw: 31, xh: 16},
  values: durMean, errs: durErr, dots: durDots, colors: ['#fff', PINK, LGRAY, RED_DOTS], gap: 0.3, barPct: 0.95,
  xmin: -0.68, xmax: 12.2, ymax: 300, ystep: 100, ytitle: 'Duration (s)',
  groupTicks: true, groupNames: chambers, xpad: 2, sig: durSig,
  dotR: 1.0, bin: 8, dx: 0.2, capW: 4, bw: 1, yfs: 9, tfs: 8.5, xfs: 10});

barPanel({box: {ax: 634, top: 510, bottom: 625, right: 740, yw: 20, xh: 18},
  values: startleMean, errs: startleErr, dots: startleDots, colors: ['#fff', PINK], gap: 0.73, barPct: 0.95,
  xmin: -0.76, xmax: 4.39, ymax: 8, ystep: 2, ytitle: 'Startle amplitude',
  barNames: groups4, xpad: 4, sig: startleSig,
  dotR: 1.4, bin: 0.2, dx: 0.15, capW: 6, yfs: 8.5, tfs: 7.5, xfs: 9.5});

// ---------- panel letters, titles and keys ----------
function addText(s, x, y, css) {
  const d = document.createElement('div');
  d.className = 't';
  d.textContent = s;
  d.style.left = x + 'px';
  d.style.top = y + 'px';
  if (css) d.style.cssText += css;
  document.body.appendChild(d);
  return d;
}
const letters = [['A', 2, 5], ['B', 147, 5], ['C', 278, 5], ['D', 420, 5], ['E', 588, 5],
  ['F', 2, 167], ['G', 203, 167], ['H', 383, 167], ['I', 579, 167],
  ['J', 3, 342], ['K', 185, 342], ['L', 382, 342], ['M', 498, 342], ['N', 637, 342],
  ['O', 2, 492], ['P', 175, 492], ['Q', 387, 492], ['R', 603, 497]];
letters.forEach(([s, x, y]) => {
  const d = addText(s, x, y - 2);
  d.className = 'pl';
});

function lineKey(x, y, col, label) {
  const l = document.createElement('div');
  l.className = 'key';
  l.style.cssText += `left:${x}px;top:${y - 1}px;width:15px;height:2px;background:${col}`;
  document.body.appendChild(l);
  const d = document.createElement('div');
  d.className = 'key';
  d.style.cssText += `left:${x + 5}px;top:${y - 2.5}px;width:5px;height:5px;border-radius:50%;background:${col}`;
  document.body.appendChild(d);
  addText(label, x + 18, y - 6, 'font-size:10.5px');
}
function boxKey(x, y, w, h, bg, label, fs) {
  const d = document.createElement('div');
  d.className = 'key';
  d.style.cssText += `left:${x}px;top:${y}px;width:${w}px;height:${h}px;border:1.5px solid #000;background:${bg};box-sizing:border-box`;
  document.body.appendChild(d);
  addText(label, x + w + 4, y + h / 2 - 6, `font-size:${fs}px`);
}
const hatchCss = 'repeating-linear-gradient(-45deg,#151515 0 3px,#8c8c8c 3px 4px)';

lineKey(80, 21, '#000', 'Saline');
lineKey(80, 32, RED, 'VPA');
boxKey(628, 17, 12, 10, '#fff', 'open', 10);
boxKey(672, 17, 13, 10, hatchCss, 'closed', 10);
addText('P7', 110, 176, 'font-size:10px');
addText('P11', 305, 176, 'font-size:10px');
addText('P7', 497, 176, 'font-size:10px');
addText('P11', 688, 176, 'font-size:10px');
lineKey(147, 195, '#000', 'FS');
lineKey(147, 207, '#ec8a8a', 'FV');
lineKey(534, 195, '#000', 'MS');
lineKey(534, 207, RED, 'MV');
boxKey(65, 344, 11, 8, '#fff', 'FS', 10.5);
boxKey(65, 356, 11, 8, PINK, 'FV', 10.5);
boxKey(112, 344, 11, 8, GRAY, 'MS', 10.5);
boxKey(112, 356, 11, 8, RED, 'MV', 10.5);
boxKey(415, 351, 13, 9, hatchCss, 'Yes', 10);
boxKey(455, 351, 12, 9, '#fff', 'No', 10);
</script>
</body>
</html>
